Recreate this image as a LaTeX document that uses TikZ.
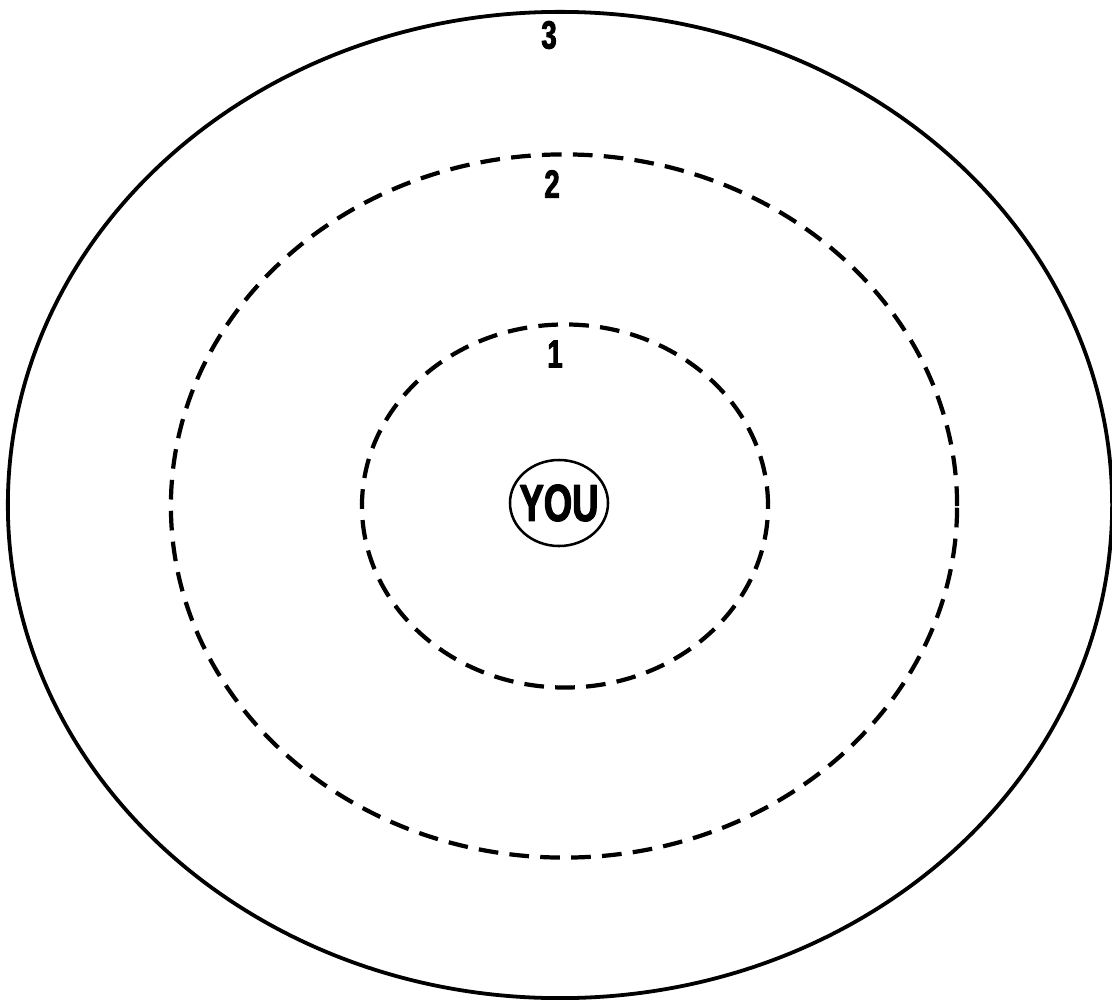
\documentclass[tikz,border=0pt]{standalone}
\usepackage{fontspec}
\newfontfamily\ringfont{Liberation Sans}[FakeStretch=0.7,FakeBold=2.2]
\usetikzlibrary{shapes.geometric}
\tikzset{
  every picture/.style = {line join=round, line cap=butt},
  ring/.style = {
    ellipse,
    draw=black,
    inner sep=0pt
  },
  ring solid/.style = {ring, line width=2.7pt},
  ring dashed/.style = {ring, line width=3pt, dash pattern=on 14pt off 8pt},
  you ring/.style = {ring, line width=1.8pt},
  ring label/.style = {
    font=\ringfont\bfseries\fontsize{28}{28}\selectfont,
    inner sep=0pt
  },
  you label/.style = {
    font=\ringfont\bfseries\fontsize{37}{37}\selectfont,
    inner sep=0pt
  }
}
\begin{document}
\begin{tikzpicture}[x=0.025cm,y=-0.025cm]
  \useasboundingbox (0,0) rectangle (1112,1000);

  % rings, outermost first
  \node[ring solid, minimum width=27.6cm, minimum height=24.65cm] (ring3) at (560,505) {};
  \node[ring dashed, minimum width=19.65cm, minimum height=17.575cm] (ring2) at (564,506) {};
  \node[ring dashed, minimum width=10.15cm, minimum height=9.075cm] (ring1) at (565,506) {};
  \node[you ring, minimum width=2.45cm, minimum height=2.15cm] (you) at (559,503) {};
  \node[you label] (youtxt) at (you.center) {YOU};

  \node[ring label] (lbl3) at (549,35) {3};
  \node[ring label] (lbl2) at (552,184) {2};
  \node[ring label] (lbl1) at (555,354) {1};
\end{tikzpicture}
\end{document}
